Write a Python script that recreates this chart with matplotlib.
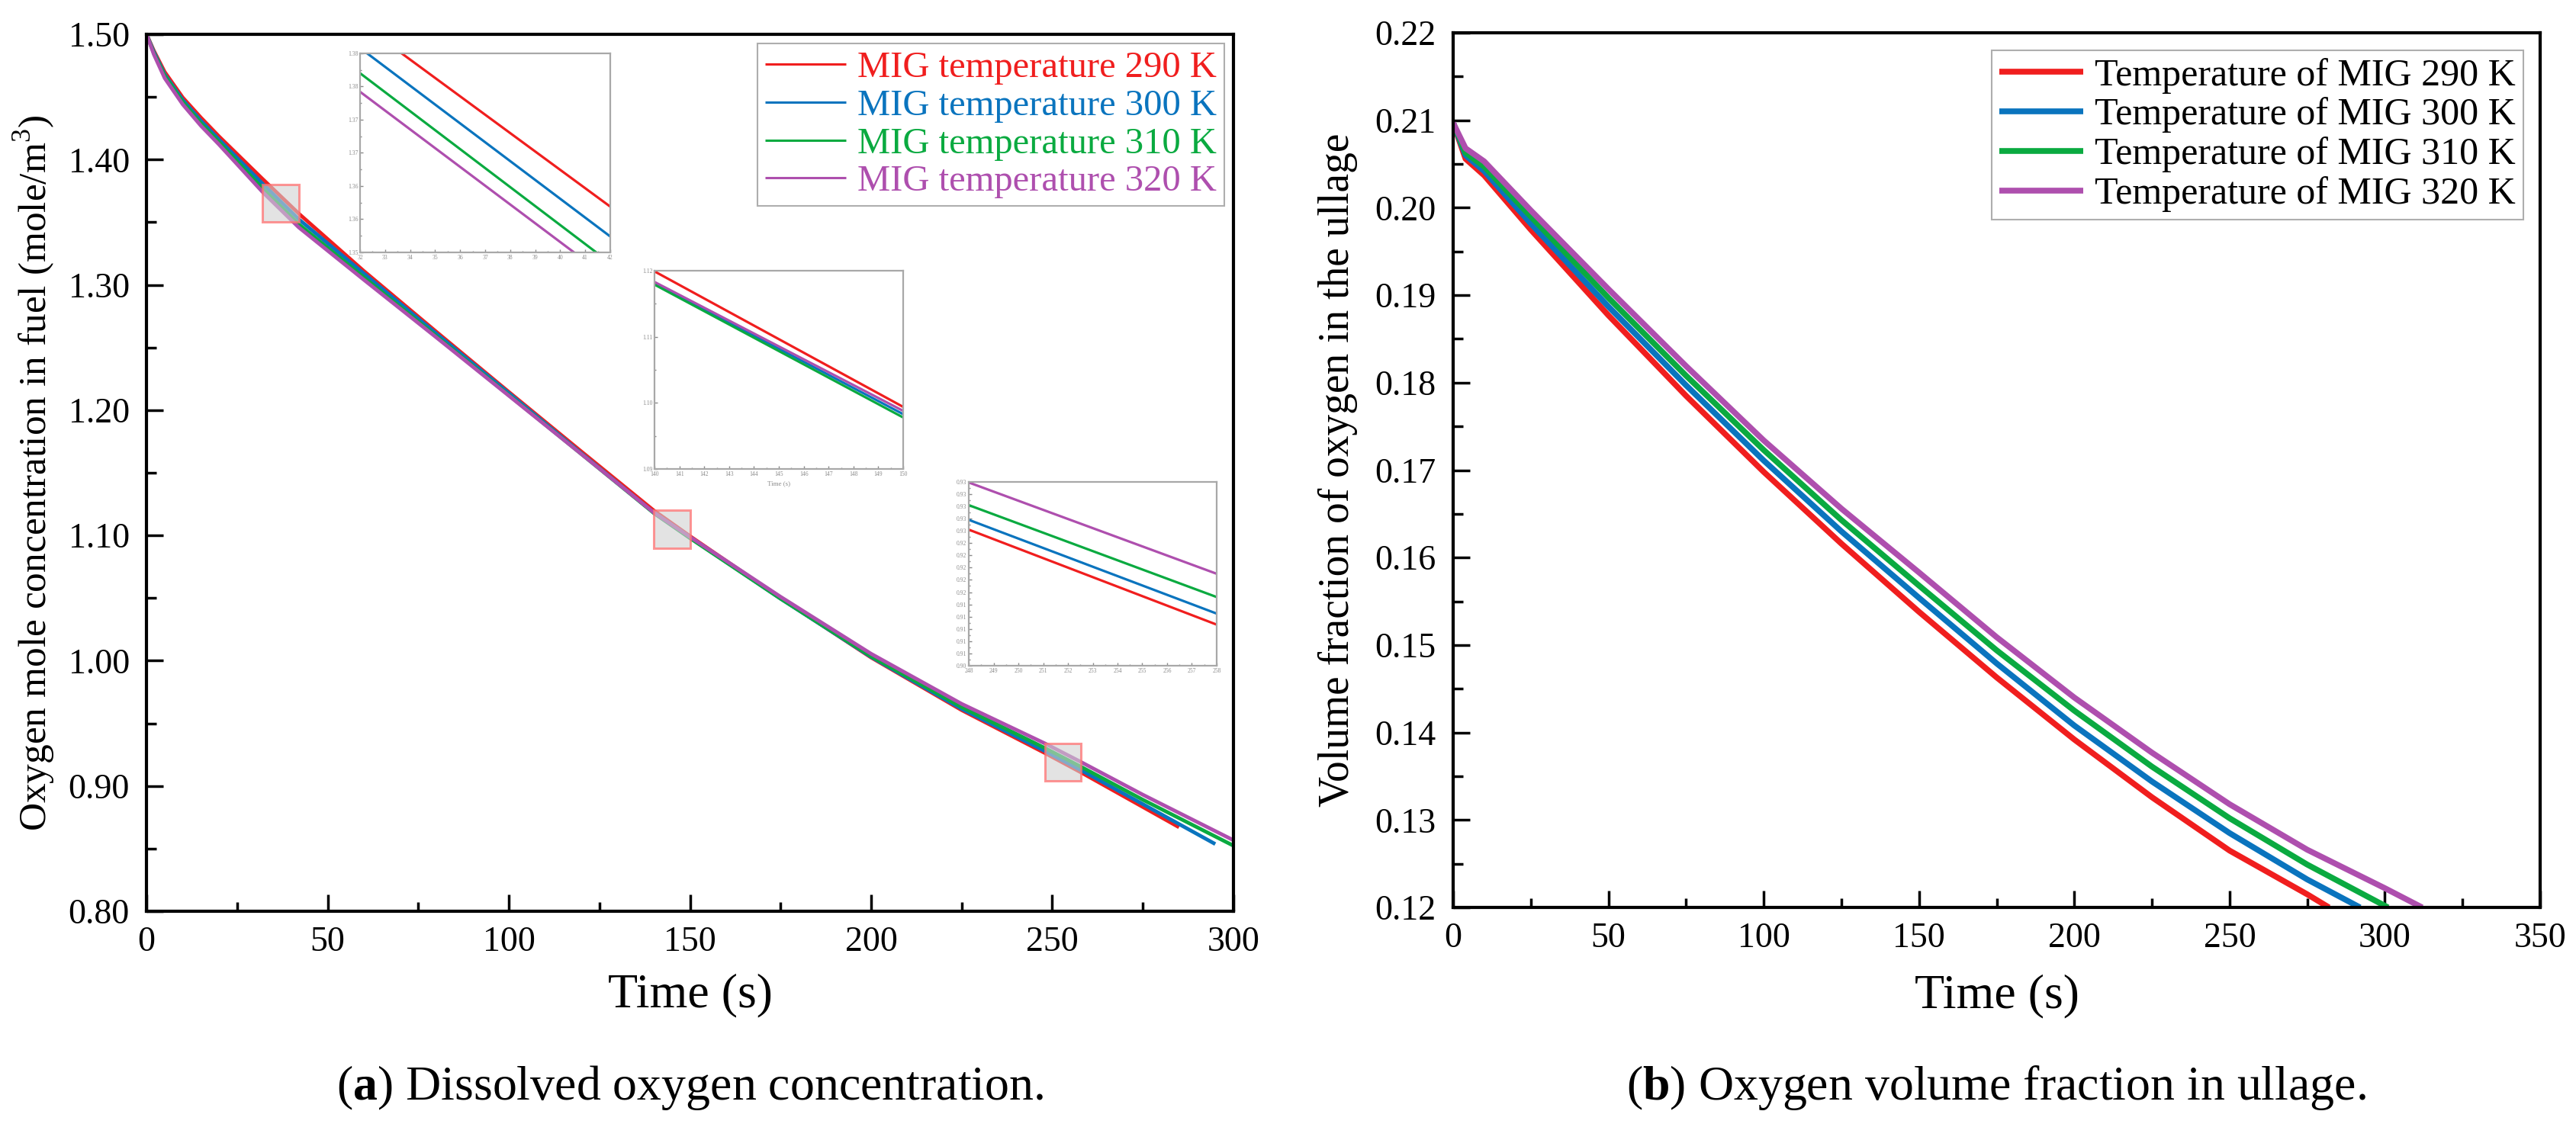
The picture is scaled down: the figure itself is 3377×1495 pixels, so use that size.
import matplotlib
matplotlib.use("Agg")
import matplotlib.pyplot as plt
from matplotlib.patches import Rectangle
from matplotlib.ticker import MultipleLocator, FormatStrFormatter

plt.rcParams['font.family'] = ['Liberation Serif', 'DejaVu Serif']
plt.rcParams['mathtext.fontset'] = 'custom'
plt.rcParams['mathtext.rm'] = 'Liberation Serif'
plt.rcParams['mathtext.bf'] = 'Liberation Serif:bold'

# ---- data ----
colors = ['#F01E1E', '#0A74BE', '#0AAA40', '#AE4FAE']
labels_a = ['MIG temperature 290 K', 'MIG temperature 300 K',
            'MIG temperature 310 K', 'MIG temperature 320 K']
labels_b = ['Temperature of MIG 290 K', 'Temperature of MIG 300 K',
            'Temperature of MIG 310 K', 'Temperature of MIG 320 K']

# (a) dissolved oxygen concentration (mole/m3)
t_290a = [0, 2, 5, 10, 15, 20, 32, 42, 60, 80, 100, 120, 140, 150, 175, 200, 225, 248, 258, 275, 285]
c_290 = [1.500, 1.487, 1.470, 1.4495, 1.4335, 1.4185, 1.3846, 1.3569, 1.311, 1.2625, 1.2145,
         1.167, 1.1199, 1.0994, 1.050, 1.0025, 0.9605, 0.9262, 0.9107, 0.8832, 0.867]
t_300a = [0, 2, 5, 10, 15, 20, 32, 42, 60, 80, 100, 120, 140, 150, 175, 200, 225, 248, 258, 275, 295]
c_300 = [1.500, 1.486, 1.468, 1.4475, 1.431, 1.416, 1.3808, 1.3524, 1.309, 1.261, 1.2135,
         1.1655, 1.1181, 1.0983, 1.0495, 1.0030, 0.9615, 0.9278, 0.9125, 0.8855, 0.8536]
t_310a = [0, 2, 5, 10, 15, 20, 32, 42, 60, 80, 100, 120, 140, 150, 175, 200, 225, 248, 258, 275, 300]
c_310 = [1.500, 1.485, 1.467, 1.446, 1.429, 1.414, 1.377, 1.3484, 1.306, 1.259, 1.212,
         1.165, 1.1179, 1.0978, 1.0495, 1.0035, 0.963, 0.9302, 0.9152, 0.889, 0.8523]
t_320a = [0, 2, 5, 10, 15, 20, 32, 42, 60, 80, 100, 120, 140, 150, 175, 200, 225, 248, 258, 275, 300]
c_320 = [1.500, 1.484, 1.465, 1.444, 1.427, 1.412, 1.3742, 1.3459, 1.304, 1.258, 1.2115,
         1.165, 1.1183, 1.0988, 1.051, 1.0055, 0.9655, 0.9339, 0.919, 0.893, 0.8567]

# (b) oxygen volume fraction in ullage
t_290b = [0, 4, 10, 25, 50, 75, 100, 125, 150, 175, 200, 225, 250, 275, 282]
v_290 = [0.2097, 0.2056, 0.2037, 0.1975, 0.1877, 0.1785, 0.1698, 0.1616, 0.1538, 0.1463,
         0.1392, 0.1326, 0.1265, 0.1215, 0.1200]
t_300b = [0, 4, 10, 25, 50, 75, 100, 125, 150, 175, 200, 225, 250, 275, 292]
v_300 = [0.2097, 0.2060, 0.2042, 0.1982, 0.1887, 0.1797, 0.1711, 0.1630, 0.1554, 0.1479,
         0.1408, 0.1344, 0.1285, 0.1232, 0.1200]
t_310b = [0, 4, 10, 25, 50, 75, 100, 125, 150, 175, 200, 225, 250, 275, 301]
v_310 = [0.2097, 0.2063, 0.2047, 0.1990, 0.1897, 0.1808, 0.1723, 0.1643, 0.1568, 0.1494,
         0.1425, 0.1361, 0.1302, 0.1249, 0.1200]
t_320b = [0, 4, 10, 25, 50, 75, 100, 125, 150, 175, 200, 225, 250, 275, 300, 312]
v_320 = [0.2097, 0.2068, 0.2053, 0.1997, 0.1907, 0.1819, 0.1734, 0.1656, 0.1583, 0.1509,
         0.1440, 0.1377, 0.1318, 0.1266, 0.1222, 0.1200]

series_a = [(t_290a, c_290), (t_300a, c_300), (t_310a, c_310), (t_320a, c_320)]
series_b = [(t_290b, v_290), (t_300b, v_300), (t_310b, v_310), (t_320b, v_320)]

# zoom windows (x0, x1, y0, y1) shown in the insets
zoom_windows = [(32, 42, 1.350, 1.380), (140, 150, 1.09, 1.12), (248, 258, 0.904, 0.934)]
inset_ystep = [0.005, 0.01, 0.002]

fig = plt.figure(figsize=(33.77, 14.95), dpi=100)

ax1 = fig.add_axes([0.0569, 0.2007, 0.4219, 0.7692])
ax2 = fig.add_axes([0.5641, 0.2040, 0.4220, 0.7672])

for (t, c), col, lab in zip(series_a, colors, labels_a):
    ax1.plot(t, c, color=col, lw=3.5, label=lab, solid_capstyle='butt')
for (t, v), col, lab in zip(series_b, colors, labels_b):
    ax2.plot(t, v, color=col, lw=5.5, label=lab, solid_capstyle='butt')

ax1.set_xlim(0, 300)
ax1.set_ylim(0.80, 1.50)
ax1.xaxis.set_major_locator(MultipleLocator(50))
ax1.xaxis.set_minor_locator(MultipleLocator(25))
ax1.yaxis.set_major_locator(MultipleLocator(0.10))
ax1.yaxis.set_minor_locator(MultipleLocator(0.05))
ax1.yaxis.set_major_formatter(FormatStrFormatter('%.2f'))

ax2.set_xlim(0, 350)
ax2.set_ylim(0.12, 0.22)
ax2.xaxis.set_major_locator(MultipleLocator(50))
ax2.xaxis.set_minor_locator(MultipleLocator(25))
ax2.yaxis.set_major_locator(MultipleLocator(0.01))
ax2.yaxis.set_minor_locator(MultipleLocator(0.005))
ax2.yaxis.set_major_formatter(FormatStrFormatter('%.2f'))

for ax in (ax1, ax2):
    for sp in ax.spines.values():
        sp.set_linewidth(3)
    ax.tick_params(which='both', direction='in', top=False, right=False, width=2.5)
    ax.tick_params(which='major', length=16, labelsize=33)
    ax.tick_params(which='minor', length=9)
    ax.tick_params(axis='y', which='major', pad=16)
    ax.tick_params(axis='x', which='major', pad=14)

ax1.set_xlabel('Time (s)', fontsize=46)
ax2.set_xlabel('Time (s)', fontsize=46)
ax1.xaxis.set_label_coords(0.5, -0.071)
ax2.xaxis.set_label_coords(0.5, -0.076)
ax1.set_ylabel('Oxygen mole concentration in fuel (mole/m$^3$)', fontsize=37)
ax2.set_ylabel('Volume fraction of oxygen in the ullage', fontsize=40)
ax1.yaxis.set_label_coords(-0.082, 0.5)
ax2.yaxis.set_label_coords(-0.088, 0.5)

leg1 = ax1.legend(loc='upper right', fontsize=35, frameon=True, fancybox=False,
                  edgecolor='#9a9a9a', handlelength=2.2, handletextpad=0.3,
                  labelspacing=0.12, borderpad=0.2, borderaxespad=0.25)
leg1.get_frame().set_linewidth(1.5)
for txt, col in zip(leg1.get_texts(), colors):
    txt.set_color(col)
for h in leg1.get_lines():
    h.set_linewidth(2.2)

leg2 = ax2.legend(loc='upper right', fontsize=36, frameon=True, fancybox=False,
                  edgecolor='#9a9a9a', handlelength=2.2, handletextpad=0.3,
                  labelspacing=0.1, borderpad=0.2, borderaxespad=0.45)
leg2.get_frame().set_linewidth(1.5)

# highlighted windows on the main curve
for (x0, x1, y0, y1) in zoom_windows:
    ax1.add_patch(Rectangle((x0, y0), x1 - x0, y1 - y0, facecolor=(0.82, 0.82, 0.82, 0.6),
                            edgecolor=(1.0, 0.45, 0.45, 0.75), lw=2.2, zorder=5))

# insets
inset_pos = [[0.1398, 0.7786, 0.0971, 0.1746],
             [0.2541, 0.5886, 0.0965, 0.1739],
             [0.3761, 0.4161, 0.0962, 0.1612]]
for k, ((x0, x1, y0, y1), pos) in enumerate(zip(zoom_windows, inset_pos)):
    ins = fig.add_axes(pos)
    for (t, c), col in zip(series_a, colors):
        ins.plot(t, c, color=col, lw=2.3)
    ins.set_xlim(x0, x1)
    ins.set_ylim(y0, y1)
    ins.xaxis.set_major_locator(MultipleLocator(1))
    ins.xaxis.set_minor_locator(MultipleLocator(0.5))
    ins.yaxis.set_major_locator(MultipleLocator(inset_ystep[k]))
    ins.yaxis.set_minor_locator(MultipleLocator(inset_ystep[k] / 2))
    ins.yaxis.set_major_formatter(FormatStrFormatter('%.2f'))
    for sp in ins.spines.values():
        sp.set_color('#a8a8a8')
        sp.set_linewidth(1.6)
    ins.tick_params(which='both', direction='in', top=False, right=False,
                    colors='#8a8a8a', labelsize=5.5, pad=2, width=1)
    ins.tick_params(which='major', length=3)
    ins.tick_params(which='minor', length=1.5)
    if k == 1:
        ins.set_xlabel('Time (s)', fontsize=6.5, color='#8a8a8a', labelpad=3)

fig.text(0.268, 0.046, r'($\mathbf{a}$) Dissolved oxygen concentration.', fontsize=46,
         ha='center', va='center')
fig.text(0.775, 0.046, r'($\mathbf{b}$) Oxygen volume fraction in ullage.', fontsize=46,
         ha='center', va='center')

fig.savefig('out.png', dpi=100)
